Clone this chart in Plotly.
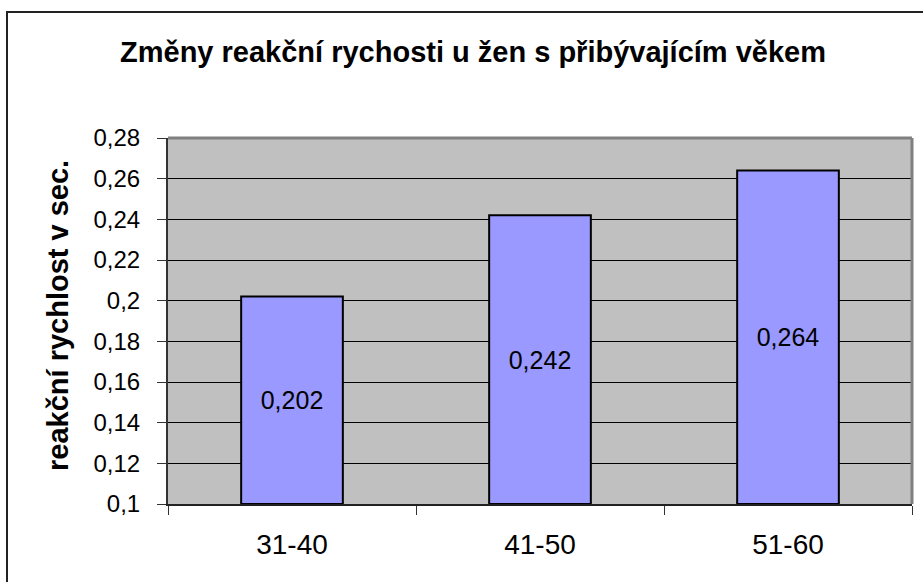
import plotly.graph_objects as go

categories = ["31-40", "41-50", "51-60"]
values = [0.202, 0.242, 0.264]
axis_min = 0.1
axis_max = 0.28
title_text = "Změny reakční rychosti u žen s přibývajícím věkem"
y_title = "reakční rychlost v sec."

W, H = 923, 582
L, R, T, B = 168, 11, 138, 78
pw, ph = W - L - R, H - T - B

def px_x(px):
    return (px - L) / pw

def px_y(py):
    return (H - B - py) / ph

fig = go.Figure()
fig.add_trace(go.Bar(
    x=categories,
    y=[v - axis_min for v in values],
    base=axis_min,
    text=[str(v).replace(".", ",") for v in values],
    textposition="inside",
    insidetextanchor="middle",
    textangle=0,
    textfont=dict(family="Liberation Sans, Arial", size=25, color="black"),
    marker=dict(color="#9999FF", line=dict(color="black", width=2)),
    width=0.41,
    hoverinfo="skip",
))

fig.update_layout(
    width=W, height=H,
    margin=dict(l=L, r=R, t=T, b=B),
    paper_bgcolor="white",
    plot_bgcolor="#C0C0C0",
    separators=", ",
    showlegend=False,
    font=dict(family="Liberation Sans, Arial", color="black"),
    title=dict(text="<b>" + title_text + "</b>", xref="container", yref="container",
               x=473 / W, xanchor="center", y=1 - 52 / H, yanchor="middle",
               font=dict(size=29, color="black")),
    xaxis=dict(
        range=[-0.5, 2.5],
        showline=True, linecolor="#222222", linewidth=2,
        ticks="outside", tickson="boundaries", ticklen=9, tickcolor="#333333", tickwidth=1,
        tickfont=dict(size=28),
        ticklabelstandoff=14,
        showgrid=False,
        fixedrange=True,
    ),
    yaxis=dict(
        range=[axis_min, axis_max],
        dtick=0.02,
        showline=True, linecolor="#333333", linewidth=2,
        ticks="outside", ticklen=9, tickcolor="#333333", tickwidth=1,
        tickfont=dict(size=24),
        ticklabelstandoff=12,
        showgrid=True, gridcolor="black", gridwidth=1,
        zeroline=False,
        fixedrange=True,
    ),
    shapes=[
        # outer chart frame (extends beyond visible area on right/bottom)
        dict(type="rect", xref="paper", yref="paper",
             x0=px_x(7), y0=px_y(700), x1=px_x(1100), y1=px_y(12),
             line=dict(color="#222222", width=2), fillcolor="rgba(0,0,0,0)", layer="above"),
        # plot area border top/right
        dict(type="line", xref="paper", yref="paper", x0=0, x1=1, y0=1, y1=1,
             line=dict(color="#808080", width=3)),
        dict(type="line", xref="paper", yref="paper", x0=1, x1=1, y0=0, y1=1,
             line=dict(color="#808080", width=3)),
    ],
    annotations=[
        dict(text="<b>" + y_title + "</b>", xref="paper", yref="paper",
             x=px_x(58), y=px_y(316), xanchor="center", yanchor="middle",
             textangle=-90, showarrow=False, font=dict(size=29, color="black")),
    ],
)

fig.write_html("out.html", config={"displayModeBar": False},
               post_script="document.body.style.margin='0';document.body.style.overflow='hidden';")
